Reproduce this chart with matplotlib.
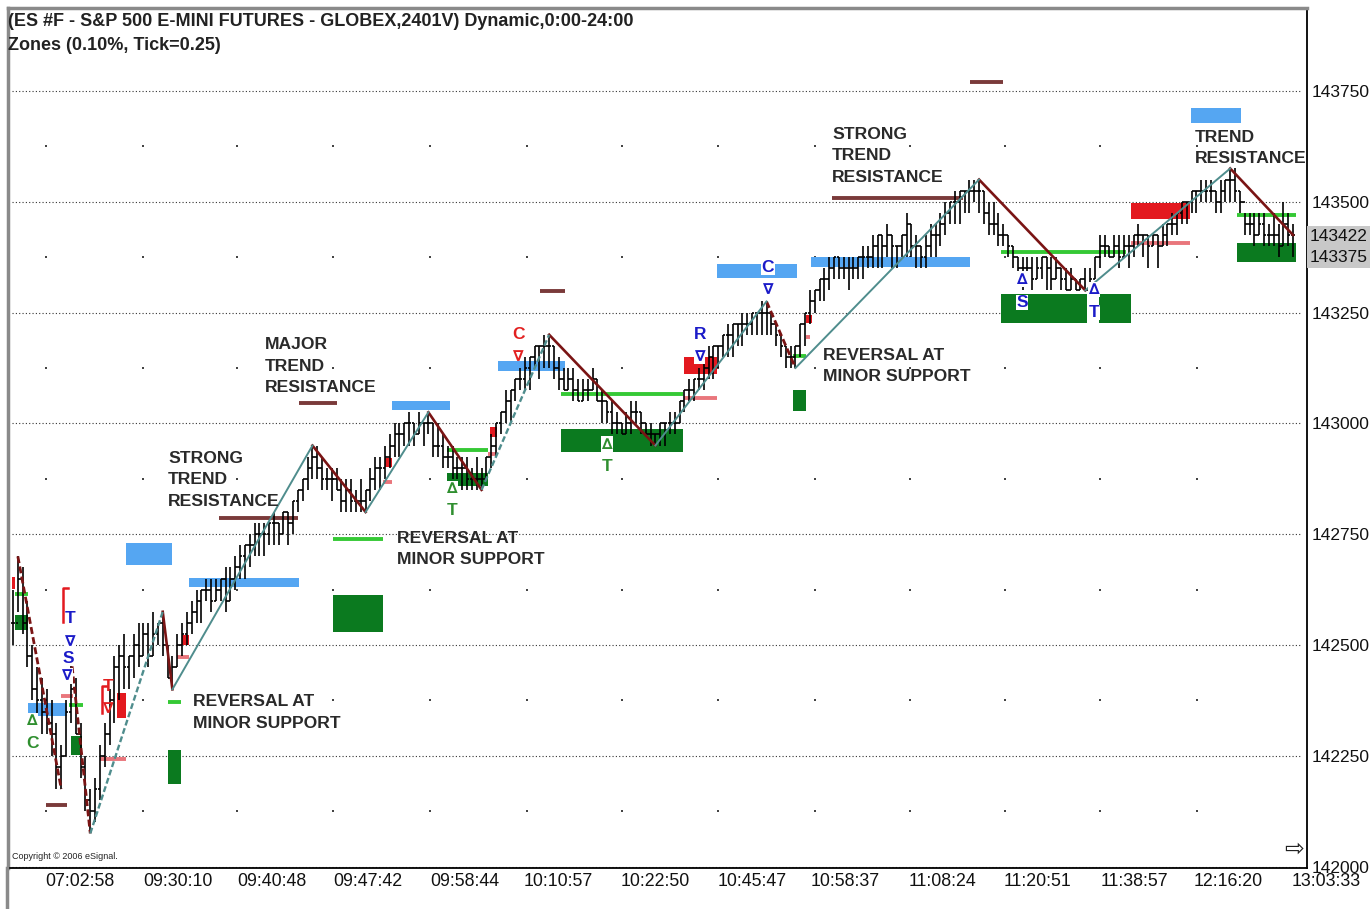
import numpy as np
import matplotlib.pyplot as plt
import matplotlib.transforms as mtransforms
from matplotlib.collections import LineCollection
from matplotlib.patches import Rectangle
from matplotlib.lines import Line2D

plt.rcParams['font.family'] = ['Liberation Sans', 'DejaVu Sans']

# ---- price bars (prices x100, like the chart scale) ----
highs = [142625, 142700, 142675, 142600, 142500, 142450, 142425, 142400, 142375, 142325,
         142275, 142375, 142475, 142425, 142325, 142250, 142175, 142200,
         142275, 142325, 142400, 142475, 142500, 142525, 142475, 142525, 142550, 142550,
         142550, 142575, 142550, 142575, 142500, 142475, 142525, 142550,
         142575, 142600, 142625, 142625, 142650, 142650, 142650, 142650, 142675, 142675,
         142700, 142725, 142725, 142750, 142775, 142775, 142775, 142775, 142800, 142775,
         142800, 142800, 142825, 142850, 142875, 142925, 142950,
         142950, 142925, 142900, 142900, 142900, 142875, 142875, 142875, 142850, 142875, 142850,
         142900, 142925, 142925, 142950, 142975, 143000, 143000, 143000, 143025, 143000,
         143025, 143000, 143025,
         143000, 143000, 142975, 142950, 142950, 142925, 142925, 142925, 142900, 142925, 142900,
         142925, 142975, 143000, 143025, 143075, 143075, 143100, 143125, 143150, 143150,
         143175, 143175, 143200, 143200,
         143175, 143150, 143125, 143125, 143125, 143100, 143100, 143100, 143125, 143100,
         143075, 143050, 143050, 143025, 143000, 143025, 143050, 143050, 143025, 143000,
         143000, 142975,
         143000, 143000, 143025, 143025, 143050, 143075, 143100, 143100, 143125, 143150,
         143175, 143175, 143175, 143200, 143225, 143225, 143225, 143250, 143250, 143250,
         143250, 143275, 143275,
         143250, 143225, 143200, 143175, 143175, 143175,
         143225, 143250, 143300, 143300, 143325, 143350, 143375, 143375, 143375, 143375,
         143375, 143375, 143375, 143400, 143400, 143425, 143425, 143425, 143450, 143425,
         143400, 143425, 143475, 143450, 143425, 143400, 143425, 143450, 143450, 143475,
         143500, 143500, 143525, 143525, 143525, 143550, 143550, 143550,
         143525, 143500, 143500, 143475, 143450, 143425, 143400, 143375, 143375, 143375,
         143375, 143375, 143375, 143375, 143375, 143375, 143350, 143350, 143350, 143325,
         143325, 143350,
         143350, 143375, 143425, 143425, 143400, 143425, 143425, 143425, 143425, 143425,
         143450, 143425, 143425, 143425, 143425, 143450, 143450, 143475, 143475, 143500,
         143500, 143525, 143525, 143550, 143550, 143550, 143525, 143550, 143550, 143575,
         143575, 143525, 143475, 143475, 143475, 143475, 143475, 143450, 143475, 143450,
         143500, 143475, 143450]

lows = [142500, 142575, 142525, 142450, 142375, 142325, 142300, 142300, 142250, 142175,
        142175, 142250, 142325, 142300, 142200, 142125, 142075, 142100,
        142150, 142225, 142275, 142325, 142375, 142400, 142400, 142425, 142450, 142475,
        142450, 142475, 142500, 142475, 142425, 142400, 142450, 142475,
        142500, 142525, 142550, 142550, 142600, 142575, 142600, 142600, 142575, 142600,
        142625, 142650, 142650, 142675, 142700, 142700, 142700, 142725, 142725, 142725,
        142750, 142725, 142750, 142800, 142825, 142850, 142875,
        142875, 142850, 142850, 142825, 142850, 142800, 142800, 142800, 142800, 142800, 142800,
        142825, 142850, 142850, 142875, 142900, 142925, 142925, 142950, 142950, 142950,
        142975, 142950, 142975,
        142925, 142925, 142900, 142900, 142875, 142875, 142850, 142850, 142850, 142850, 142850,
        142875, 142900, 142925, 142975, 143000, 143000, 143050, 143075, 143075, 143075,
        143125, 143100, 143125, 143125,
        143100, 143075, 143075, 143075, 143050, 143050, 143050, 143050, 143075, 143050,
        143000, 143000, 142975, 142975, 142975, 142975, 142975, 143000, 142975, 142975,
        142950, 142950,
        142950, 142950, 142975, 142975, 143000, 143025, 143050, 143050, 143075, 143075,
        143100, 143100, 143125, 143150, 143150, 143150, 143175, 143175, 143200, 143200,
        143200, 143200, 143200,
        143200, 143175, 143150, 143125, 143125, 143125,
        143150, 143175, 143225, 143250, 143275, 143275, 143300, 143325, 143325, 143325,
        143300, 143325, 143325, 143325, 143350, 143350, 143350, 143350, 143375, 143350,
        143350, 143375, 143375, 143375, 143350, 143350, 143350, 143375, 143375, 143400,
        143425, 143450, 143450, 143450, 143475, 143475, 143500, 143475,
        143450, 143425, 143425, 143400, 143400, 143375, 143350, 143325, 143300, 143325,
        143300, 143325, 143325, 143300, 143300, 143325, 143300, 143300, 143300, 143300,
        143300, 143300,
        143300, 143325, 143350, 143375, 143375, 143375, 143350, 143375, 143350, 143375,
        143400, 143375, 143350, 143400, 143350, 143400, 143400, 143425, 143425, 143450,
        143450, 143475, 143475, 143500, 143500, 143500, 143475, 143475, 143500, 143500,
        143500, 143475, 143425, 143425, 143400, 143425, 143400, 143400, 143400, 143375,
        143400, 143400, 143375]

closes = [142550, 142650, 142550, 142475, 142400, 142375, 142350, 142325, 142300, 142225,
          142250, 142350, 142400, 142300, 142225, 142150, 142125, 142175,
          142250, 142300, 142375, 142450, 142475, 142450, 142475, 142500, 142475, 142525,
          142475, 142525, 142550, 142500, 142425, 142450, 142500, 142525,
          142550, 142575, 142600, 142625, 142625, 142600, 142625, 142650, 142600, 142650,
          142675, 142700, 142725, 142725, 142750, 142750, 142750, 142775, 142775, 142750,
          142800, 142775, 142825, 142850, 142875, 142900, 142925,
          142900, 142875, 142875, 142875, 142850, 142825, 142850, 142825, 142825, 142825, 142850,
          142875, 142900, 142900, 142925, 142950, 142975, 142975, 143000, 143000, 142975,
          143000, 143000, 143000,
          142950, 142950, 142925, 142925, 142900, 142900, 142900, 142875, 142875, 142875, 142875,
          142925, 142950, 143000, 143025, 143050, 143075, 143100, 143100, 143125, 143150,
          143175, 143175, 143175, 143175,
          143125, 143100, 143075, 143100, 143075, 143050, 143075, 143075, 143100, 143050,
          143050, 143025, 143000, 143000, 142975, 143000, 143025, 143025, 143000, 142975,
          142975, 142975,
          143000, 143000, 143000, 143000, 143050, 143075, 143075, 143100, 143100, 143125,
          143150, 143175, 143175, 143200, 143200, 143225, 143225, 143225, 143225, 143250,
          143250, 143250, 143250,
          143225, 143200, 143175, 143150, 143150, 143175,
          143225, 143250, 143275, 143300, 143325, 143325, 143350, 143375, 143350, 143350,
          143350, 143350, 143375, 143375, 143375, 143400, 143425, 143400, 143425, 143400,
          143400, 143425, 143450, 143400, 143400, 143375, 143400, 143425, 143425, 143450,
          143475, 143500, 143500, 143525, 143525, 143525, 143525, 143525,
          143475, 143450, 143450, 143425, 143425, 143400, 143375, 143350, 143350, 143350,
          143325, 143350, 143375, 143350, 143325, 143350, 143325, 143300, 143325, 143300,
          143325, 143300,
          143325, 143375, 143400, 143400, 143375, 143400, 143375, 143400, 143400, 143425,
          143425, 143425, 143400, 143425, 143400, 143425, 143450, 143450, 143475, 143500,
          143500, 143525, 143525, 143525, 143525, 143525, 143500, 143525, 143550, 143550,
          143525, 143500, 143450, 143450, 143425, 143450, 143425, 143425, 143425, 143400,
          143450, 143425, 143425]

price_levels = [142000, 142250, 142500, 142750, 143000, 143250, 143500, 143750]
mid_levels = [142125, 142375, 142625, 142875, 143125, 143375, 143625]
time_labels = ['07:02:58', '09:30:10', '09:40:48', '09:47:42', '09:58:44', '10:10:57', '10:22:50',
               '10:45:47', '10:58:37', '11:08:24', '11:20:51', '11:38:57', '12:16:20', '13:03:33']
time_label_bars = [13.9, 34.2, 53.6, 73.5, 93.6, 112.8, 132.9, 153.0, 172.3, 192.5, 212.2,
                   232.1, 251.6, 271.8]
grid_bars = [6.8, 26.9, 46.4, 66.3, 86.3, 106.4, 126.1, 146.0, 166.0, 185.7, 205.4, 225.1, 245.1]

# zones: (first bar, last bar, price low, price high)
blue_zones = [(3.1, 11.2, 142340, 142370), (23.4, 32.9, 142680, 142730),
              (36.4, 59.2, 142630, 142652), (78.5, 90.5, 143030, 143050),
              (100.4, 114.3, 143118, 143140), (145.8, 162.3, 143327, 143360),
              (165.2, 198.1, 143352, 143375), (243.9, 254.2, 143678, 143712)]
green_zones = [(0.4, 3.1, 142533, 142567), (12.0, 14.3, 142251, 142294),
               (32.1, 34.8, 142186, 142263), (66.3, 76.6, 142530, 142612),
               (89.9, 98.3, 142859, 142888), (113.5, 138.7, 142936, 142987),
               (161.5, 164.2, 143028, 143075), (204.6, 222.4, 143226, 143291),
               (224.8, 231.5, 143226, 143291), (253.4, 265.6, 143365, 143408)]
red_zones = [(-0.2, 0.4, 142627, 142654), (21.5, 23.4, 142335, 142391),
             (35.0, 36.4, 142501, 142522), (77.0, 78.5, 142902, 142922),
             (98.8, 100.2, 142969, 142992), (138.9, 145.8, 143111, 143149),
             (164.2, 165.4, 143226, 143244), (231.5, 243.7, 143460, 143498)]
# level lines: (first bar, last bar, price)
support_lines = [(0.4, 3.1, 142616), (11.5, 14.5, 142364), (32.1, 34.8, 142371),
                 (66.3, 76.6, 142740), (89.9, 98.3, 142940), (113.5, 138.7, 143066),
                 (161.5, 164.2, 143152), (204.6, 230.4, 143386), (253.4, 265.6, 143469)]
pink_lines = [(10.0, 12.4, 142386), (18.0, 23.4, 142243), (34.0, 36.4, 142474),
              (76.6, 78.5, 142868), (98.3, 100.2, 142931), (138.9, 145.8, 143057),
              (164.2, 165.0, 143194), (231.5, 243.7, 143408)]
brown_lines = [(6.8, 11.2, 142139), (42.6, 59.0, 142787), (59.2, 67.0, 143046),
               (109.1, 114.3, 143298), (169.6, 196.7, 143509), (198.1, 205.0, 143770)]

# swing legs (pivot bar -> pivot bar)
down_legs = [(31, 33), (62, 73), (86, 97), (111, 133), (200, 222)]
down_legs_dashed = [(1, 10), (12, 16), (156, 162)]
up_legs = [(33, 62), (73, 86), (133, 156), (162, 200), (222, 252)]
up_legs_dashed = [(16, 31), (97, 111)]

# signal letters
sig_bar = [4.1, 4.1, 11.8, 11.8, 11.4, 11.2, 19.7, 19.7, 90.9, 90.9, 104.6, 104.6,
           123.0, 123.0, 142.2, 142.2, 156.3, 156.3, 208.9, 208.9, 223.8, 223.8]
sig_price = [142330, 142278, 142560, 142508, 142470, 142430, 142407, 142357, 142852, 142803,
             143201, 143151, 142953, 142902, 143201, 143151, 143352, 143302, 143325, 143273,
             143302, 143250]
sig_text = ['∆', 'C', 'T', '∇', 'S', '∇', 'T', '∇', '∆', 'T', 'C', '∇',
            '∆', 'T', 'R', '∇', 'C', '∇', '∆', 'S', '∆', 'T']
sig_color = ['g', 'g', 'b', 'b', 'b', 'b', 'r', 'r', 'g', 'g', 'r', 'r',
             'g', 'g', 'b', 'b', 'b', 'b', 'b', 'b', 'b', 'b']
bracket_bar = [10.4, 18.4]
bracket_top = [142628, 142407]
bracket_bottom = [142553, 142346]

BLUE = '#55a6f2'
DKGREEN = '#0b7a1f'
LTGREEN = '#35c935'
RED = '#e3191f'
PINK = '#e9767c'
BROWN = '#7a3a3a'
MAROON = '#7a1414'
TEAL = '#4f8d8d'
INK = '#2a2a2a'
sig_colors = {'g': '#2f8f2f', 'b': '#1b1bc8', 'r': '#e22020'}

fig = plt.figure(figsize=(13.7, 9.09), dpi=100)
ax = fig.add_axes([8 / 1370, 41 / 909, 1299 / 1370, 860 / 909])
ax.set_xlim(-1.035, 267.9)
ax.set_ylim(141997, 143937)

# grid
for lv in price_levels:
    ax.axhline(lv, xmin=0.003, xmax=0.996, color='#333333', lw=0.8,
               linestyle=(0, (1, 2)), zorder=0.5)
gx, gy = np.meshgrid(grid_bars, mid_levels)
ax.scatter(gx.ravel(), gy.ravel(), s=1.5, color='#444444', marker='s', lw=0, zorder=0.5)

# zones
for zones, col in [(blue_zones, BLUE), (green_zones, DKGREEN), (red_zones, RED)]:
    for x0, x1, lo, hi in zones:
        ax.add_patch(Rectangle((x0, lo), x1 - x0, hi - lo, facecolor=col,
                               edgecolor='none', zorder=1))
for lines, col in [(support_lines, LTGREEN), (pink_lines, PINK), (brown_lines, BROWN)]:
    for x0, x1, p in lines:
        ax.plot([x0, x1], [p, p], color=col, lw=2.8, solid_capstyle='butt', zorder=1.5)

# OHLC bars
n = len(closes)
opens = [closes[0]] + closes[:-1]
segs = []
for i in range(n):
    segs.append([(i, lows[i]), (i, highs[i])])
    segs.append([(i - 0.48, opens[i]), (i, opens[i])])
    segs.append([(i, closes[i]), (i + 0.48, closes[i])])
ax.add_collection(LineCollection(segs, colors='black', linewidths=1.2, zorder=3))

# swing lines
for a, b in down_legs:
    ax.plot([a, b], [highs[a], lows[b]], color=MAROON, lw=1.9, zorder=4)
ax.plot([252, n - 1], [highs[252], closes[-1]], color=MAROON, lw=1.9, zorder=4)
for a, b in down_legs_dashed:
    ax.plot([a, b], [highs[a], lows[b]], color=MAROON, lw=2.0, linestyle=(0, (2.5, 1.2)), zorder=4)
for a, b in up_legs:
    ax.plot([a, b], [lows[a], highs[b]], color=TEAL, lw=1.4, zorder=4)
for a, b in up_legs_dashed:
    ax.plot([a, b], [lows[a], highs[b]], color=TEAL, lw=1.7, linestyle=(0, (2.5, 1.2)), zorder=4)

# signal letters
for b, p, t, c in zip(sig_bar, sig_price, sig_text, sig_color):
    tri = t in '∆∇'
    ax.text(b, p, t, color=sig_colors[c], fontsize=11 if tri else 12.5, fontweight='bold',
            family=['DejaVu Sans'] if tri else ['Liberation Sans', 'DejaVu Sans'],
            ha='center', va='center', zorder=5,
            bbox=None if c == 'r' else dict(facecolor='white', edgecolor='none', pad=0.2))
for b, top, bot in zip(bracket_bar, bracket_top, bracket_bottom):
    ax.plot([b + 0.9, b, b], [top, top, bot], color=RED, lw=1.8, zorder=5)

# annotations
notes = [('STRONG\nTREND\nRESISTANCE', 32.1, 142938), ('MAJOR\nTREND\nRESISTANCE', 52.2, 143194),
         ('REVERSAL AT\nMINOR SUPPORT', 79.5, 142758), ('REVERSAL AT\nMINOR SUPPORT', 37.3, 142389),
         ('REVERSAL AT\nMINOR SUPPORT', 167.7, 143170), ('STRONG\nTREND\nRESISTANCE', 169.6, 143669),
         ('TREND\nRESISTANCE', 244.7, 143662)]
for txt, b, p in notes:
    ax.text(b, p, txt, color=INK, fontsize=12.6, fontweight='bold', ha='left', va='top',
            linespacing=1.53, zorder=6)

# axes styling
for side in ['top', 'left']:
    ax.spines[side].set_color('#8a8a8a')
    ax.spines[side].set_linewidth(2.5)
ax.spines['right'].set_linewidth(1.3)
ax.spines['bottom'].set_linewidth(1.3)
ax.yaxis.tick_right()
ax.set_yticks(price_levels)
ax.set_yticklabels([str(v) for v in price_levels])
ax.tick_params(axis='y', length=0, pad=3, labelsize=12.5, labelcolor='#111111')
ax.set_xticks([])
trans = mtransforms.blended_transform_factory(ax.transData, ax.transAxes)
for b, lab in zip(time_label_bars, time_labels):
    ax.text(b, -0.016, lab, transform=trans, ha='center', va='center', fontsize=12.8,
            color='#111111', clip_on=False)

ytrans = mtransforms.blended_transform_factory(ax.transAxes, ax.transData)
for v, s in [(143422, '143422'), (143375, '143375')]:
    ax.text(1.0023, v, s, transform=ytrans, ha='left', va='center', fontsize=12.5,
            color='#111111', bbox=dict(facecolor='#c8c8c8', edgecolor='none', pad=2.2),
            clip_on=False, zorder=7)

ax.text(0.003, 0.008, 'Copyright © 2006 eSignal.', transform=ax.transAxes, fontsize=6.5,
        color='#222222', ha='left', va='bottom')
ax.text(0.99, 0.008, '⇨', transform=ax.transAxes, fontsize=17, family=['DejaVu Sans'],
        color='#222222', ha='center', va='bottom')

fig.text(8 / 1370, 1 - 22 / 909, '(ES #F - S&P 500 E-MINI FUTURES - GLOBEX,2401V) Dynamic,0:00-24:00',
         fontsize=13, fontweight='bold', color='#222222', ha='left', va='center')
fig.text(8 / 1370, 1 - 45 / 909, 'Zones (0.10%, Tick=0.25)',
         fontsize=13, fontweight='bold', color='#222222', ha='left', va='center')
fig.add_artist(Line2D([7 / 1370, 7 / 1370], [0, 41 / 909], color='#8a8a8a', lw=2.5))

fig.savefig('out.png', dpi=100)
